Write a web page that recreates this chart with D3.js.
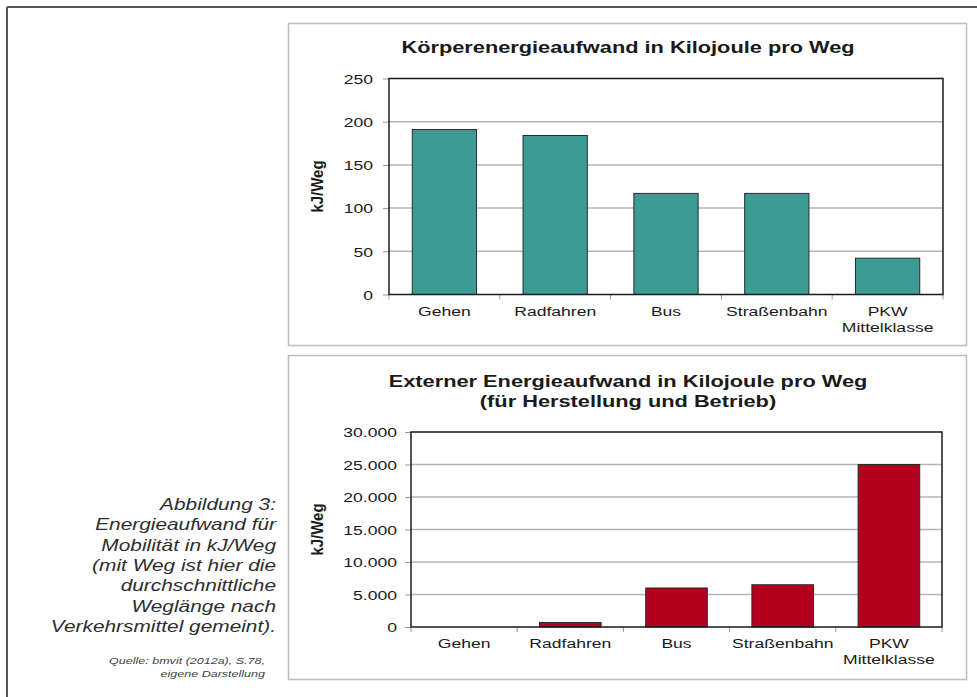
<!DOCTYPE html>
<html><head><meta charset="utf-8">
<script src="https://cdn.jsdelivr.net/npm/d3@7"></script>
<style>html,body{margin:0;padding:0;background:#fff;} svg{display:block;}</style>
</head><body>
<script>
const categories = ["Gehen", "Radfahren", "Bus", "Straßenbahn", "PKW\nMittelklasse"];
const bodyEnergy = [191, 184, 117, 117, 42];          // kJ/Weg
const externalEnergy = [0, 700, 6000, 6500, 25000];   // kJ/Weg
const bodyTicks = [0, 50, 100, 150, 200, 250];
const extTicks = [0, 5000, 10000, 15000, 20000, 25000, 30000];
const titleTop = ["Körperenergieaufwand in Kilojoule pro Weg"];
const titleBottom = ["Externer Energieaufwand in Kilojoule pro Weg", "(für Herstellung und Betrieb)"];
const yTitle = "kJ/Weg";
const captionLines = ["Abbildung 3:", "Energieaufwand für", "Mobilität in kJ/Weg", "(mit Weg ist hier die", "durchschnittliche", "Weglänge nach", "Verkehrsmittel gemeint)."];
const sourceLines = ["Quelle: bmvit (2012a), S.78,", "eigene Darstellung"];

const W = 977, H = 697, SX = 1.32;
const FONT = "'Liberation Sans', Arial, Helvetica, sans-serif";
const de = d3.formatLocale({decimal: ",", thousands: ".", grouping: [3], currency: ["", "€"]});
const fmt = de.format(",.0f");

const svg = d3.select("body").append("svg").attr("width", W).attr("height", H)
  .style("font-family", FONT);

function txt(g, x, y, s, o = {}) {
  return g.append("text")
    .attr("transform", `translate(${x},${y}) scale(${o.sx || SX},1)`)
    .attr("text-anchor", o.anchor || "middle")
    .style("font-size", (o.size || 13) + "px")
    .style("font-weight", o.weight || "normal")
    .style("font-style", o.style || "normal")
    .attr("fill", o.fill || "#1a1a1a")
    .text(s);
}

// page frame
svg.append("line").attr("x1", 7).attr("y1", 7).attr("x2", W).attr("y2", 7).attr("stroke", "#555").attr("stroke-width", 2);
svg.append("line").attr("x1", 7).attr("y1", 7).attr("x2", 7).attr("y2", H).attr("stroke", "#555").attr("stroke-width", 2);

function chart(cfg) {
  const g = svg.append("g");
  g.append("rect").attr("x", cfg.box[0]).attr("y", cfg.box[1]).attr("width", cfg.box[2]).attr("height", cfg.box[3])
    .attr("fill", "#fff").attr("stroke", "#bdbdbd").attr("stroke-width", 1.5);
  const [l, t, r, b] = cfg.plot;
  const x = d3.scaleBand().domain(categories).range([l, r]).paddingInner(0.42).paddingOuter(0.21);
  const y = d3.scaleLinear().domain([0, cfg.ticks[cfg.ticks.length - 1]]).range([b, t]);

  // gridlines
  g.append("g").selectAll("line").data(cfg.ticks.slice(1, -1)).join("line")
    .attr("x1", l).attr("x2", r).attr("y1", d => y(d)).attr("y2", d => y(d))
    .attr("stroke", "#b5b5b5").attr("stroke-width", 1.5);

  // bars
  g.append("g").selectAll("rect").data(cfg.values).join("rect")
    .attr("x", (d, i) => x(categories[i])).attr("width", x.bandwidth())
    .attr("y", d => y(d)).attr("height", d => b - y(d))
    .attr("fill", cfg.color).attr("stroke", "#2a2a2a").attr("stroke-width", d => d > 0 ? 1 : 0);

  // y axis
  const ya = g.append("g").attr("transform", `translate(${l},0)`)
    .call(d3.axisLeft(y).tickValues(cfg.ticks).tickFormat(fmt).tickSize(6).tickPadding(0));
  ya.select(".domain").remove();
  ya.selectAll(".tick line").attr("stroke", "#999");
  ya.selectAll(".tick text").attr("x", null).attr("dy", "0.36em")
    .attr("transform", `translate(${-cfg.labelGap},0) scale(${SX},1)`)
    .style("font-size", "13.3px").style("font-family", FONT).attr("fill", "#1a1a1a");

  // x ticks at band boundaries
  const bounds = d3.range(categories.length + 1).map(i => l + i * x.step());
  g.append("g").selectAll("line").data(bounds).join("line")
    .attr("x1", d => d).attr("x2", d => d).attr("y1", b).attr("y2", b + 5)
    .attr("stroke", "#999").attr("stroke-width", 1);

  // frame
  g.append("rect").attr("x", l).attr("y", t).attr("width", r - l).attr("height", b - t)
    .attr("fill", "none").attr("stroke", "#1a1a1a").attr("stroke-width", 1.5);

  // x labels
  categories.forEach((c, i) => {
    c.split("\n").forEach((s, k) => txt(g, x(c) + x.bandwidth() / 2, b + 21 + k * 16, s, {size: 13.3}));
  });

  // titles
  cfg.title.forEach((s, k) => txt(g, cfg.titleX, cfg.titleY + k * 20, s, {size: 16.5, weight: "bold"}));

  // y title
  g.append("text")
    .attr("transform", `translate(${cfg.yTitleX},${(t + b) / 2}) scale(1.1,1) rotate(-90)`)
    .attr("text-anchor", "middle").style("font-size", "15px").style("font-weight", "bold")
    .attr("fill", "#1a1a1a").text(yTitle);
}

chart({box: [288.5, 23.5, 678, 322], plot: [389, 78.5, 943, 294.5], values: bodyEnergy, ticks: bodyTicks,
  color: "#3c9b95", title: titleTop, titleX: 628, titleY: 53, yTitleX: 323, labelGap: 16});
chart({box: [288.5, 355.5, 678, 324], plot: [411, 432, 942, 627], values: externalEnergy, ticks: extTicks,
  color: "#b3001f", title: titleBottom, titleX: 628, titleY: 387, yTitleX: 323, labelGap: 14});

// caption
captionLines.forEach((s, k) => txt(svg, 276, 510 + k * 20.3, s, {anchor: "end", size: 15.8, style: "italic", fill: "#2e2e2e"}));
sourceLines.forEach((s, k) => txt(svg, 265, 664 + k * 13, s, {anchor: "end", size: 9.5, style: "italic", fill: "#444"}));
</script>
</body></html>
